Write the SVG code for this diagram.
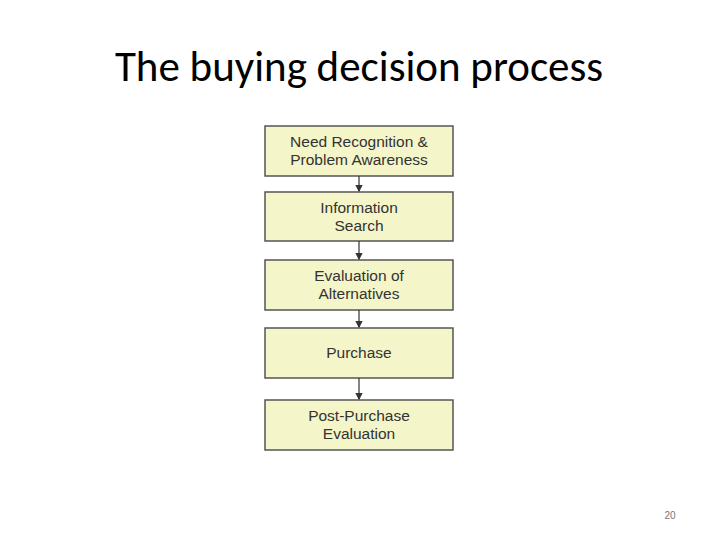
<svg xmlns="http://www.w3.org/2000/svg" width="720" height="540" viewBox="0 0 720 540">
<style>
.b{fill:#f4f5c8;stroke:#555;stroke-width:1.5}
.t{font-family:"Liberation Sans",Arial,sans-serif;font-size:15.5px;fill:#333;text-anchor:middle}
.c{stroke:#333;stroke-width:1.2;fill:none;marker-end:url(#a)}
</style>
<defs><marker id="a" markerWidth="6" markerHeight="6" refX="5" refY="3" orient="auto"><path d="M0,0L6,3L0,6z" fill="#333"/></marker></defs>
<rect width="720" height="540" fill="#fff"/>
<text x="359" y="81" font-family="Calibri,Carlito,'Liberation Sans',sans-serif" font-size="43" text-anchor="middle" fill="#000">The buying decision process</text>
<g id="n1"><rect class="b" x="265" y="126" width="188" height="50"/><text class="t" x="359" y="147">Need Recognition &amp;</text><text class="t" x="359" y="165">Problem Awareness</text></g>
<g id="n2"><rect class="b" x="265" y="192" width="188" height="49"/><text class="t" x="359" y="213">Information</text><text class="t" x="359" y="231">Search</text></g>
<g id="n3"><rect class="b" x="265" y="260" width="188" height="50"/><text class="t" x="359" y="281">Evaluation of</text><text class="t" x="359" y="299">Alternatives</text></g>
<g id="n4"><rect class="b" x="265" y="328" width="188" height="50"/><text class="t" x="359" y="358">Purchase</text></g>
<g id="n5"><rect class="b" x="265" y="400" width="188" height="50"/><text class="t" x="359" y="421">Post-Purchase</text><text class="t" x="359" y="439">Evaluation</text></g>
<g id="connectors">
<line class="c" x1="359" y1="176" x2="359" y2="191"/>
<line class="c" x1="359" y1="241" x2="359" y2="259"/>
<line class="c" x1="359" y1="310" x2="359" y2="327"/>
<line class="c" x1="359" y1="378" x2="359" y2="399"/>
</g>
<text x="670" y="519" font-family="'Liberation Sans',sans-serif" font-size="10" fill="#777" text-anchor="middle">20</text>
</svg>
